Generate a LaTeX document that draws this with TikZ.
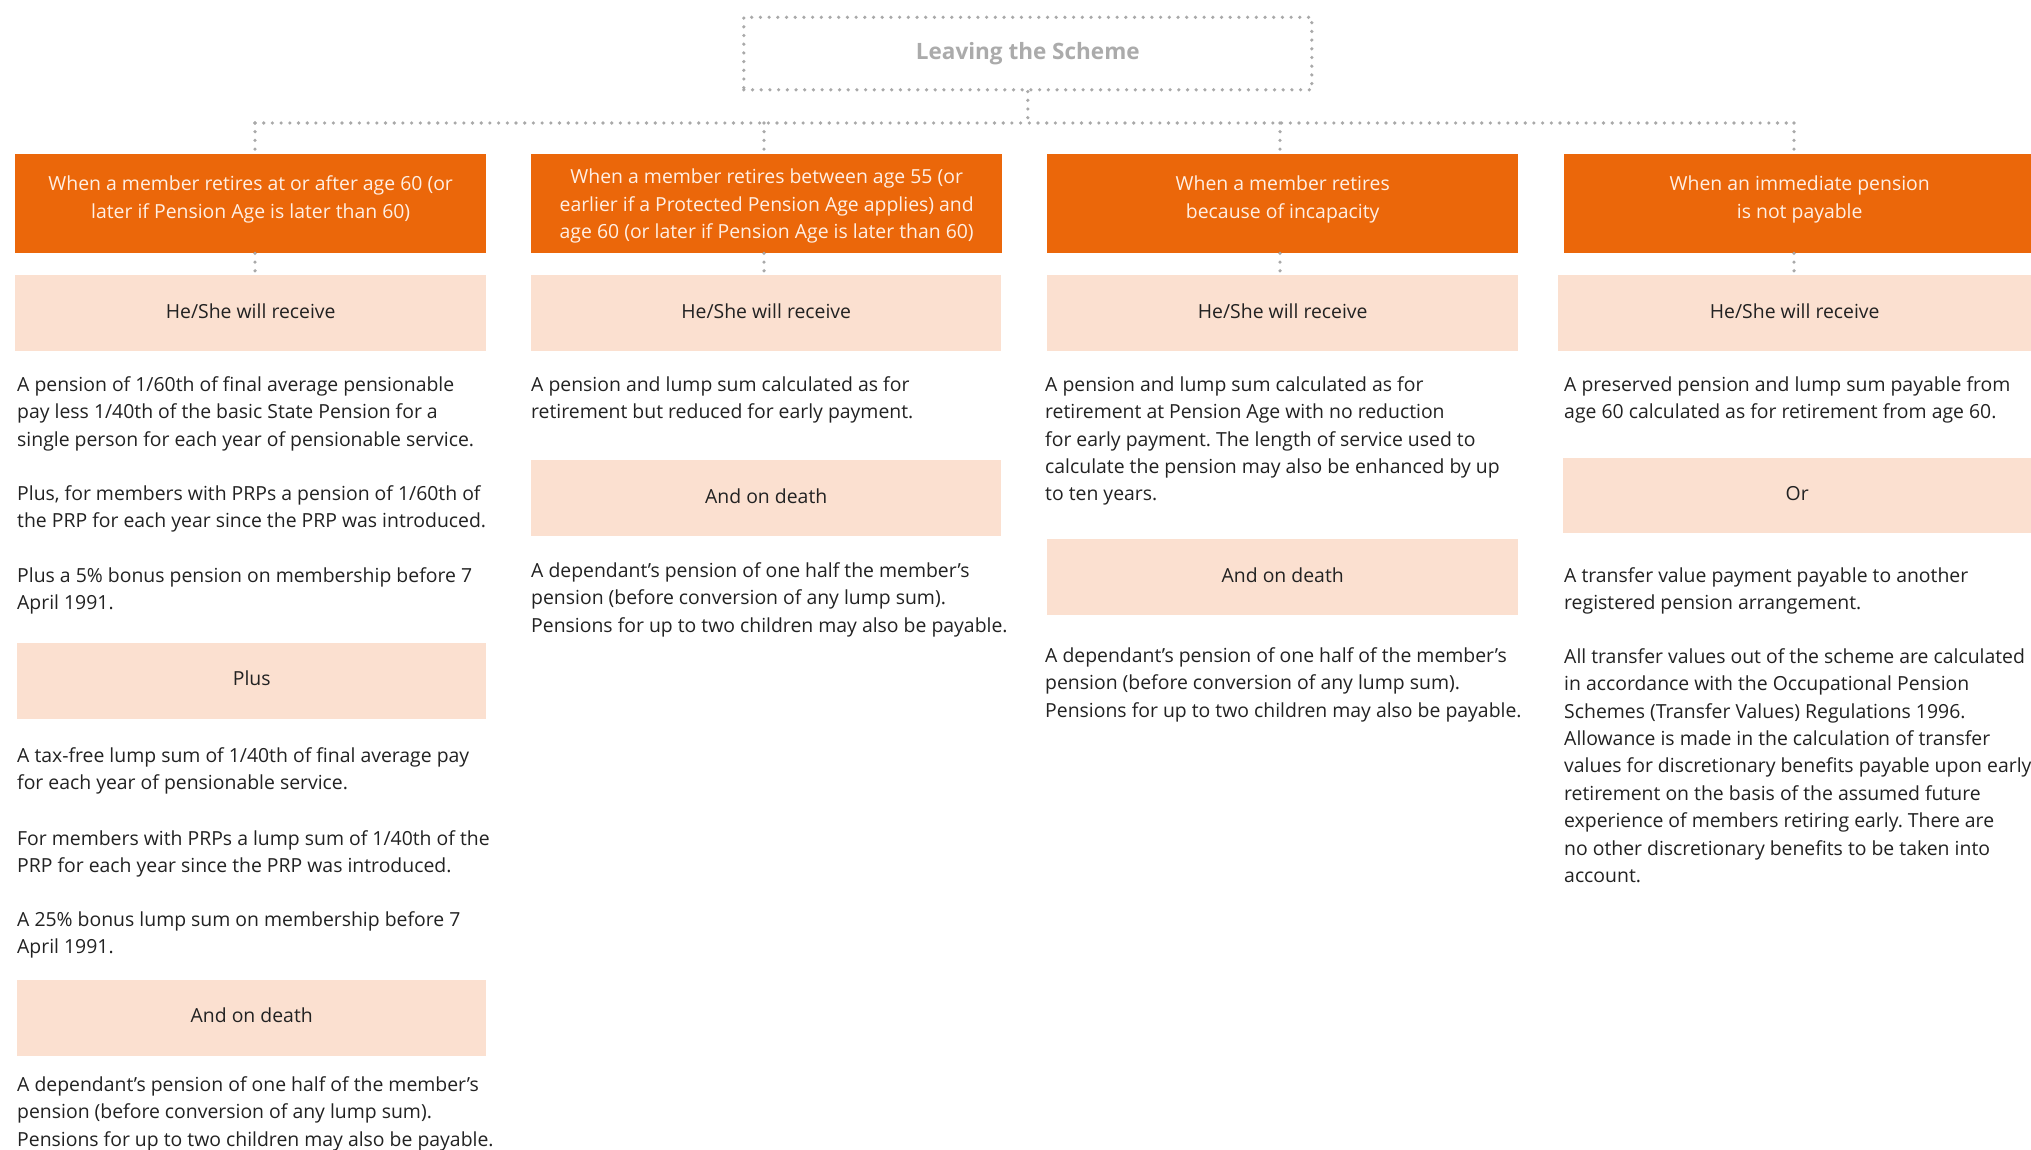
\documentclass[tikz,border=0pt]{standalone}
\usepackage{fontspec}
\setmainfont{Open Sans}
\frenchspacing
\definecolor{orng}{HTML}{EB670A}
\definecolor{peach}{HTML}{FBE0D0}
\definecolor{otext}{HTML}{FFEFE4}
\definecolor{dtext}{HTML}{222222}
\definecolor{dotgray}{HTML}{A9A9A9}
\definecolor{titlegray}{HTML}{ABABAB}
\newcommand\bodyfs{\fontsize{19.4}{27.4}\selectfont}
\begin{document}
\begin{tikzpicture}[x=1pt,y=-1pt,
  dotline/.style={draw=dotgray, line width=3.6pt, line cap=round, dash pattern=on 0pt off 8.7pt},
  obox/.style={fill=orng, text=otext, anchor=north west, minimum width=471, minimum height=99, inner sep=0pt, align=center, font=\bodyfs},
  pbox/.style={fill=peach, text=dtext, anchor=north west, minimum height=76, inner sep=0pt, align=center, font=\bodyfs, text height=14pt, text depth=4pt},
  para/.style={anchor=north west, inner sep=0pt, align=left, text=dtext, font=\bodyfs}]
\useasboundingbox (0,0) rectangle (2031,1150);
\fill[white] (0,0) rectangle (2031,1150);

% title
\node[dotline, anchor=north west, minimum width=568, minimum height=72.5, inner sep=0pt,
  text=titlegray, font=\fontsize{22.5}{26}\selectfont\bfseries] (top) at (742,15.5) {\raisebox{1.5pt}{Leaving the Scheme}};

% orange headers
\node[obox] (o1) at (15,154) {When a member retires at or after age 60 (or\\later if Pension Age is later than 60)\rule[-13pt]{0pt}{0pt}};
\node[obox] (o2) at (531,154) {\rule{0pt}{20pt}When a member retires between age 55 (or\\earlier if a Protected Pension Age applies) and\\age 60 (or later if Pension Age is later than 60)};
\node[obox] (o3) at (1047,154) {When a member retires\\because of incapacity\rule[-13pt]{0pt}{0pt}};
\node[obox] (o4) at (1564,154) {When an immediate pension\\is not payable\rule[-13pt]{0pt}{0pt}};

% peach boxes
\node[pbox, minimum width=471] (p1) at (15,275) {He/She will receive};
\node[pbox, minimum width=470] (p2) at (531,275) {He/She will receive};
\node[pbox, minimum width=471] (p3) at (1047,275) {He/She will receive};
\node[pbox, minimum width=473] (p4) at (1558,275) {He/She will receive};

\node[pbox, minimum width=469, minimum height=75.5] (plus1) at (17,643) {Plus};
\node[pbox, minimum width=469, minimum height=75.5] (death1) at (17,980) {And on death};
\node[pbox, minimum width=470] (death2) at (531,460) {And on death};
\node[pbox, minimum width=471] (death3) at (1047,539) {And on death};
\node[pbox, minimum width=468, minimum height=75] (or4) at (1563,458) {Or};

% connectors
\coordinate (d1) at (255,123);
\coordinate (d2) at (764,123);
\coordinate (d3) at (1280,123);
\coordinate (d4) at (1794,123);
\draw[dotline] (top.south) -- (top.south |- d1);
\draw[dotline] (d1) -- (d4);
\foreach \i in {1,2,3,4}{
  \draw[dotline] (d\i) -- (d\i |- o\i.north);
  \draw[dotline] (o\i.south -| d\i) -- (d\i |- p\i.north);
}

% column 1 texts
\node[para] (c1a) at (17,372) {\strut A pension of 1/60th of final average pensionable\\pay less 1/40th of the basic State Pension for a\\single person for each year of pensionable service.};
\node[para] (c1b) at (17,481) {\strut Plus, for members with PRPs a pension of 1/60th of\\the PRP for each year since the PRP was introduced.};
\node[para] (c1c) at (17,563) {\strut Plus a 5\% bonus pension on membership before 7\\April 1991.};
\node[para] (c1d) at (17,743) {\strut A tax-free lump sum of 1/40th of final average pay\\for each year of pensionable service.};
\node[para] (c1e) at (17,826) {\strut For members with PRPs a lump sum of 1/40th of the\\PRP for each year since the PRP was introduced.};
\node[para] (c1f) at (17,907) {\strut A 25\% bonus lump sum on membership before 7\\April 1991.};
\node[para] (c1g) at (17,1072) {\strut A dependant’s pension of one half of the member’s\\pension (before conversion of any lump sum).\\Pensions for up to two children may also be payable.};

% column 2 texts
\node[para] (c2a) at (531,372) {\strut A pension and lump sum calculated as for\\retirement but reduced for early payment.};
\node[para] (c2b) at (531,558) {\strut A dependant’s pension of one half the member’s\\pension (before conversion of any lump sum).\\Pensions for up to two children may also be payable.};

% column 3 texts
\node[para] (c3a) at (1045,372) {\strut A pension and lump sum calculated as for\\retirement at Pension Age with no reduction\\for early payment. The length of service used to\\calculate the pension may also be enhanced by up\\to ten years.};
\node[para] (c3b) at (1045,643) {\strut A dependant’s pension of one half of the member’s\\pension (before conversion of any lump sum).\\Pensions for up to two children may also be payable.};

% column 4 texts
\node[para] (c4a) at (1564,372) {\strut A preserved pension and lump sum payable from\\age 60 calculated as for retirement from age 60.};
\node[para] (c4b) at (1564,563) {\strut A transfer value payment payable to another\\registered pension arrangement.};
\node[para] (c4c) at (1564,644) {\strut All transfer values out of the scheme are calculated\\in accordance with the Occupational Pension\\Schemes (Transfer Values) Regulations 1996.\\Allowance is made in the calculation of transfer\\values for discretionary benefits payable upon early\\retirement on the basis of the assumed future\\experience of members retiring early. There are\\no other discretionary benefits to be taken into\\account.};
\end{tikzpicture}
\end{document}
